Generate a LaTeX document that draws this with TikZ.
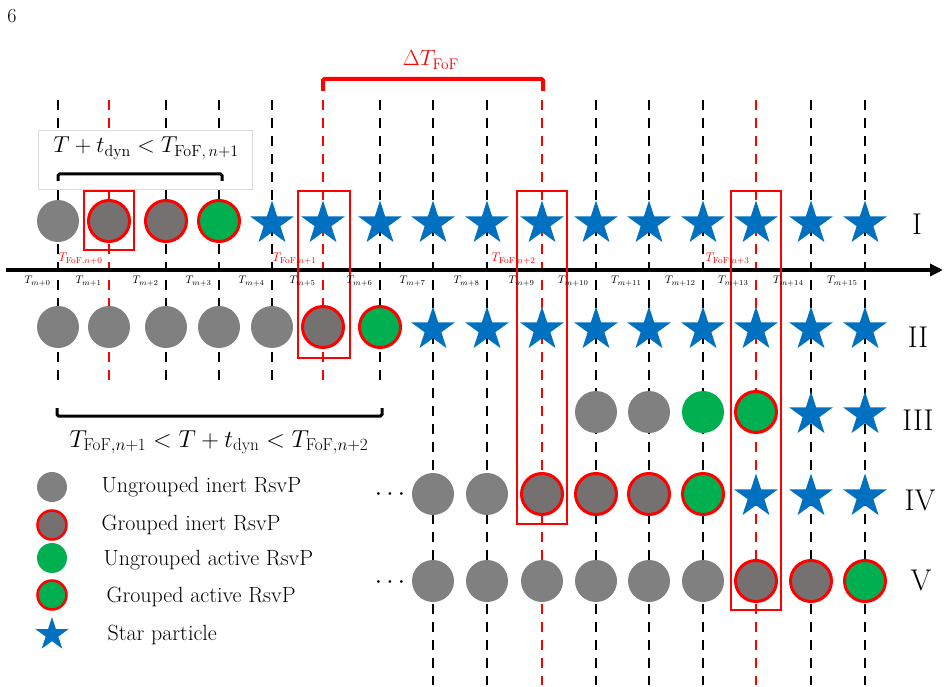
\RequirePackage{fix-cm}
\documentclass[tikz,border=0pt]{standalone}
\usetikzlibrary{shapes.geometric,arrows.meta}
\definecolor{rsvgray}{RGB}{128,128,128}
\definecolor{rsvdark}{RGB}{118,113,113}
\definecolor{rsvgreen}{RGB}{0,176,80}
\definecolor{starblue}{RGB}{0,112,192}
\definecolor{boxgray}{RGB}{220,220,220}
\begin{document}
\begin{tikzpicture}[x=1pt,y=-1pt,
    colline/.style={line width=2.6pt,dash pattern=on 10pt off 8pt},
    ungr/.style={circle,fill=rsvgray,minimum size=42pt,inner sep=0pt},
    grin/.style={circle,fill=rsvdark,draw=red,line width=3pt,minimum size=41pt,inner sep=0pt},
    ungract/.style={circle,fill=rsvgreen,minimum size=42pt,inner sep=0pt},
    gract/.style={circle,fill=rsvgreen,draw=red,line width=3pt,minimum size=41pt,inner sep=0pt},
    starp/.style={star,star points=5,star point ratio=2.618,fill=starblue,minimum size=46pt,inner sep=0pt,yshift=-2.5pt},
    tlab/.style={anchor=east,xshift=-4pt,font=\fontsize{11}{13}\selectfont},
    foflab/.style={anchor=east,xshift=-3pt,red,font=\fontsize{12.5}{14}\selectfont},
    roman/.style={anchor=base,font=\fontsize{30}{34}\selectfont},
    legtxt/.style={anchor=base west,font=\fontsize{22}{26}\selectfont},
    cond/.style={anchor=base,font=\fontsize{23}{27}\selectfont},
    dots/.style={anchor=base,font=\fontsize{26}{30}\selectfont},
    hibox/.style={draw=red,line width=1.6pt},
    brace/.style={line width=3pt,rounded corners=1.5pt}]
    \useasboundingbox (0,0) rectangle (948,687);
    \node[font=\fontsize{20}{24}\selectfont] (pg) at (12,16) {6};

    \foreach \i/\x/\b in {0/58/380,1/109/380,2/166/380,3/219/380,4/272/380,5/323/380,
        6/380/386,7/433/685,8/487/685,9/542/685,10/596/685,11/649/685,12/703/685,
        13/756/685,14/811/685,15/865/685}{
        \coordinate (top\i) at (\x,100);
        \coordinate (bot\i) at (\x,\b);
    }
    \foreach \i in {0,2,3,4,6,7,8,10,11,12,14,15}
        \draw[colline] (top\i) -- (bot\i);
    \foreach \i in {1,5,9,13}
        \draw[colline,red] (top\i) -- (bot\i);

    \coordinate (axL) at (6,270);
    \coordinate (axR) at (943,270);
    \draw[line width=4pt,-{Triangle[length=13pt,width=12pt]}] (axL) -- (axR);

    \node[draw=boxgray,fill=white,line width=0.8pt,minimum width=214pt,minimum height=59pt,inner sep=0pt] (cbox) at (145,159.5) {};
    \draw[brace] (58,181) -- (58,174) -- (222,174) -- (222,181);
    \node[cond] (c1) at (146,153) {$T+t_{\mathrm{dyn}}<T_{\mathrm{FoF},\,n+1}$};

    \draw[brace,red,line width=4pt] (323,91) -- (323,79) -- (543,79) -- (543,91);
    \node[cond,red,font=\fontsize{22}{26}\selectfont] (dT) at (431,66) {$\Delta T_{\mathrm{FoF}}$};

    \draw[brace] (57,408) -- (57,416) -- (382,416) -- (382,408);
    \node[cond,font=\fontsize{24.5}{28}\selectfont] (c2) at (219,447) {$T_{\mathrm{FoF},n+1}<T+t_{\mathrm{dyn}}<T_{\mathrm{FoF},n+2}$};

    \coordinate (rI) at (0,221);
    \coordinate (rII) at (0,327);
    \coordinate (rIII) at (0,412);
    \coordinate (rIV) at (0,494);
    \coordinate (rV) at (0,581);

    \foreach \i/\s in {0/ungr,1/grin,2/grin,3/gract,4/starp,5/starp,6/starp,7/starp,
        8/starp,9/starp,10/starp,11/starp,12/starp,13/starp,14/starp,15/starp}
        \node[\s] (I-\i) at (top\i |- rI) {};
    \foreach \i/\s in {0/ungr,1/ungr,2/ungr,3/ungr,4/ungr,5/grin,6/gract,7/starp,
        8/starp,9/starp,10/starp,11/starp,12/starp,13/starp,14/starp,15/starp}
        \node[\s] (II-\i) at (top\i |- rII) {};
    \foreach \i/\s in {10/ungr,11/ungr,12/ungract,13/gract,14/starp,15/starp}
        \node[\s] (III-\i) at (top\i |- rIII) {};
    \foreach \i/\s in {7/ungr,8/ungr,9/grin,10/grin,11/grin,12/gract,13/starp,14/starp,15/starp}
        \node[\s] (IV-\i) at (top\i |- rIV) {};
    \foreach \i/\s in {7/ungr,8/ungr,9/ungr,10/ungr,11/ungr,12/ungr,13/grin,14/grin,15/gract}
        \node[\s] (V-\i) at (top\i |- rV) {};

    \draw[hibox] (84,191) rectangle (134,250);
    \draw[hibox] (298,191) rectangle (350,358);
    \draw[hibox] (517,191) rectangle (567,524);
    \draw[hibox] (731,191) rectangle (781,610);

    \coordinate (tl) at (0,281);
    \foreach \i in {0,...,15}
        \node[tlab] (Tm\i) at (top\i |- tl) {$T_{m+\i}$};
    \coordinate (fl) at (0,259);
    \foreach \i/\n in {1/0,5/1,9/2,13/3}
        \node[foflab] (fof\n) at (top\i |- fl) {$T_{\mathrm{FoF},n+\n}$};

    \node[roman] (lI) at (917,235) {I};
    \node[roman] (lII) at (918,347) {II};
    \node[roman] (lIII) at (918,430) {III};
    \node[roman] (lIV) at (920,510) {IV};
    \node[roman] (lV) at (921,590) {V};
    \node[dots] (dIV) at (390,500) {$\cdots$};
    \node[dots] (dV) at (390,588) {$\cdots$};

    \node[ungr,minimum size=30pt] (lg1) at (52,487) {};
    \node[grin,minimum size=29pt,line width=2.5pt] (lg2) at (52,525) {};
    \node[ungract,minimum size=30pt] (lg3) at (52,558) {};
    \node[gract,minimum size=29pt,line width=2.5pt] (lg4) at (52,595) {};
    \node[starp,minimum size=35pt] (lg5) at (52,632) {};
    \node[legtxt] (lt1) at (98,492) {Ungrouped inert RsvP};
    \node[legtxt] (lt2) at (98,530) {Grouped inert RsvP};
    \node[legtxt] (lt3) at (100,565) {Ungrouped active RsvP};
    \node[legtxt] (lt4) at (103,602) {Grouped active RsvP};
    \node[legtxt] (lt5) at (104,640) {Star particle};
\end{tikzpicture}
\end{document}
